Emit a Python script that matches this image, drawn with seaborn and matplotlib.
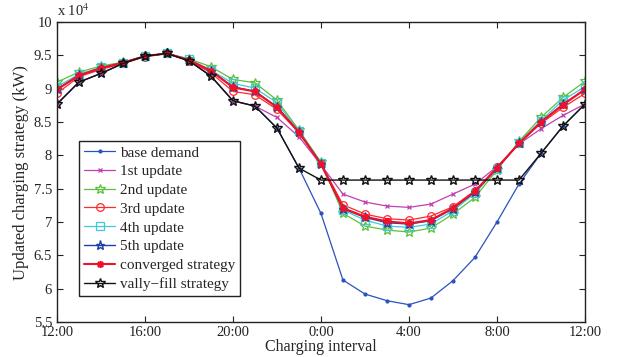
import numpy as np
import pandas as pd
import matplotlib
matplotlib.use("Agg")
import matplotlib.pyplot as plt
import seaborn as sns

hours = list(range(25))
x_tick_labels = ['12:00', '16:00', '20:00', '0:00', '4:00', '8:00', '12:00']
y_ticks = [5.5, 6, 6.5, 7, 7.5, 8, 8.5, 9, 9.5, 10]

base_demand = [8.77, 9.10, 9.23, 9.38, 9.49, 9.53, 9.42, 9.19, 8.82, 8.74, 8.41, 7.81,
               7.13, 6.13, 5.92, 5.82, 5.76, 5.86, 6.12, 6.47, 7.00, 7.57, 8.03, 8.44, 8.77]
update1 = [8.77, 9.10, 9.23, 9.38, 9.49, 9.53, 9.42, 9.19, 8.82, 8.74, 8.57, 8.28,
           7.86, 7.42, 7.30, 7.24, 7.22, 7.27, 7.42, 7.57, 7.83, 8.17, 8.40, 8.60, 8.77]
update2 = [9.10, 9.25, 9.34, 9.40, 9.49, 9.53, 9.45, 9.33, 9.14, 9.09, 8.83, 8.38,
           7.90, 7.13, 6.94, 6.88, 6.85, 6.91, 7.12, 7.37, 7.78, 8.21, 8.57, 8.87, 9.11]
update3 = [8.93, 9.18, 9.29, 9.38, 9.48, 9.53, 9.42, 9.24, 8.96, 8.91, 8.69, 8.34,
           7.88, 7.26, 7.12, 7.05, 7.03, 7.09, 7.23, 7.47, 7.82, 8.18, 8.48, 8.72, 8.93]
update4 = [9.03, 9.22, 9.32, 9.39, 9.49, 9.53, 9.44, 9.28, 9.08, 9.01, 8.79, 8.36,
           7.89, 7.18, 7.03, 6.94, 6.92, 6.97, 7.17, 7.43, 7.80, 8.19, 8.52, 8.83, 9.03]
update5 = [8.99, 9.20, 9.31, 9.39, 9.49, 9.53, 9.43, 9.27, 9.03, 8.96, 8.73, 8.35,
           7.87, 7.20, 7.07, 6.99, 6.97, 7.02, 7.20, 7.45, 7.81, 8.18, 8.50, 8.77, 8.99]
converged = [8.99, 9.20, 9.31, 9.39, 9.49, 9.53, 9.43, 9.27, 9.02, 8.96, 8.72, 8.35,
             7.87, 7.21, 7.08, 7.01, 6.98, 7.03, 7.21, 7.46, 7.81, 8.18, 8.50, 8.76, 8.99]
vally_fill = [8.77, 9.10, 9.23, 9.38, 9.49, 9.53, 9.42, 9.19, 8.82, 8.74, 8.41, 7.81,
              7.63, 7.63, 7.63, 7.63, 7.63, 7.63, 7.63, 7.63, 7.63, 7.63, 8.03, 8.44, 8.77]

sns.set_style("ticks")
plt.rcParams['font.family'] = ['Liberation Serif', 'DejaVu Serif']
plt.rcParams['mathtext.fontset'] = 'stix'

fig = plt.figure(figsize=(6.19, 3.57), dpi=100)
ax = fig.add_axes([0.092, 0.098, 0.853, 0.840])

series = [
    ("base demand", base_demand, dict(color="#2a52be", marker=".", markersize=4.5, linewidth=0.9)),
    ("1st update", update1, dict(color="#c040b0", marker="x", markersize=3, markeredgewidth=0.9, linewidth=0.9)),
    ("2nd update", update2, dict(color="#5cc03c", marker="*", markersize=7, markerfacecolor="none", markeredgewidth=0.9, linewidth=0.9)),
    ("3rd update", update3, dict(color="#ff2a2a", marker="o", markersize=5.5, markerfacecolor="none", markeredgewidth=0.9, linewidth=0.9)),
    ("4th update", update4, dict(color="#40c8d8", marker="s", markersize=5.5, markerfacecolor="none", markeredgewidth=0.9, linewidth=0.9)),
    ("5th update", update5, dict(color="#1f3fa8", marker="*", markersize=6.5, markerfacecolor="none", markeredgewidth=1.0, linewidth=1.0)),
    ("converged strategy", converged, dict(color="#f0102a", marker=(8, 2, 0), markersize=5, markeredgewidth=1.2, linewidth=1.5)),
    ("vally\u2212fill strategy", vally_fill, dict(color="#111111", marker="*", markersize=7, markerfacecolor="none", markeredgewidth=1.0, linewidth=1.0)),
]

handles = []
labels = []
for name, vals, kw in series:
    df = pd.DataFrame({"h": hours, "v": vals})
    sns.lineplot(data=df, x="h", y="v", ax=ax, legend=False, color=kw["color"])
    line = ax.lines[-1]
    line.set_linestyle('-')
    line.set_dashes([])
    line.set(**kw)
    line.set_markeredgecolor(kw["color"])
    if kw.get("markerfacecolor") != "none":
        line.set_markerfacecolor(kw["color"])
    handles.append(line)
    labels.append(name)

ax.set_xlim(0, 24)
ax.set_ylim(5.5, 10)
ax.set_xticks([0, 4, 8, 12, 16, 20, 24])
ax.set_xticklabels(x_tick_labels)
ax.set_yticks(y_ticks)
ax.set_yticklabels(['5.5', '6', '6.5', '7', '7.5', '8', '8.5', '9', '9.5', '10'])
ax.tick_params(direction='in', top=True, right=True, labelsize=10.5, length=4, width=0.8, colors='#222222')
ax.tick_params(axis='x', pad=3)
for s in ax.spines.values():
    s.set_visible(True)
    s.set_color('#222222')
    s.set_linewidth(1.0)

ax.set_xlabel("Charging interval", fontsize=11.5, labelpad=0)
ax.set_ylabel("Updated charging strategy (kW)", fontsize=12, labelpad=3)
ax.text(0.0, 1.01, r"x 10$^4$", transform=ax.transAxes, fontsize=10.5, va='bottom', ha='left')

leg = ax.legend(handles, labels, loc='upper left', bbox_to_anchor=(0.042, 0.605), frameon=True, fancybox=False,
                edgecolor='#222222', fontsize=11, labelspacing=0.33, handlelength=2.0,
                handletextpad=0.3, borderpad=0.35, borderaxespad=0, framealpha=1)
leg.get_frame().set_linewidth(1.0)

fig.savefig("out.png", dpi=100)
